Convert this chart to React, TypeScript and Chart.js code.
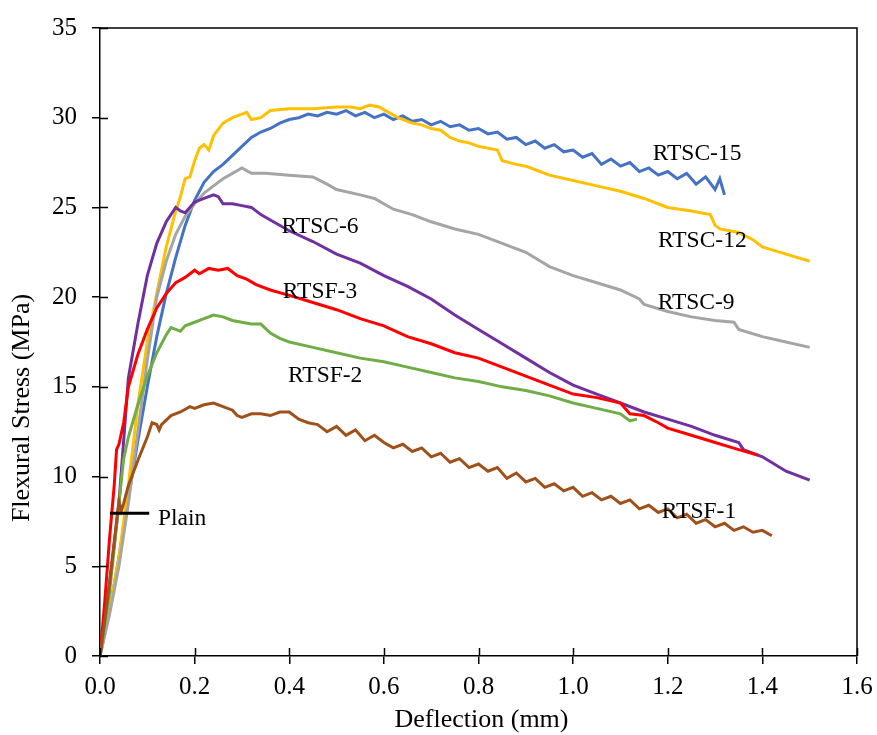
import React, { useEffect, useRef } from "react";
import { Chart, registerables } from "chart.js";

Chart.register(...registerables);

const FONT = '"Liberation Serif", "Times New Roman", serif';

// Each series: flat [x, y, x, y, ...] lists
const rtsc15 = [0,0, 0.02,2.5, 0.04,5.5, 0.06,8.8, 0.08,12.0, 0.10,15.0, 0.12,17.8, 0.14,20.2, 0.16,22.2, 0.18,24.0, 0.20,25.4, 0.22,26.4, 0.24,27.0, 0.26,27.4, 0.28,27.9, 0.30,28.4, 0.32,28.9, 0.34,29.2, 0.36,29.4, 0.38,29.7, 0.40,29.9, 0.42,30.0, 0.44,30.2, 0.46,30.1, 0.48,30.3, 0.50,30.2, 0.52,30.4, 0.54,30.1, 0.56,30.3, 0.58,30.0, 0.60,30.2, 0.62,29.9, 0.64,30.1, 0.66,29.8, 0.68,29.9, 0.70,29.6, 0.72,29.8, 0.74,29.5, 0.76,29.6, 0.78,29.3, 0.80,29.4, 0.82,29.1, 0.84,29.2, 0.86,28.8, 0.88,28.9, 0.90,28.5, 0.92,28.7, 0.94,28.3, 0.96,28.5, 0.98,28.1, 1.00,28.2, 1.02,27.8, 1.04,28.0, 1.06,27.4, 1.08,27.7, 1.10,27.3, 1.12,27.5, 1.14,27.0, 1.16,27.2, 1.18,26.8, 1.20,27.0, 1.22,26.6, 1.24,26.9, 1.26,26.3, 1.28,26.7, 1.30,26.0, 1.31,26.6, 1.32,25.7];
const rtsc12 = [0,0, 0.02,2.5, 0.04,5.5, 0.06,9.5, 0.08,14.0, 0.10,17.5, 0.12,20.2, 0.14,22.8, 0.16,24.8, 0.17,25.6, 0.18,26.6, 0.19,26.7, 0.20,27.6, 0.21,28.3, 0.22,28.5, 0.23,28.2, 0.24,29.0, 0.26,29.7, 0.28,30.0, 0.30,30.2, 0.31,30.3, 0.32,29.9, 0.34,30.0, 0.36,30.4, 0.40,30.5, 0.45,30.5, 0.50,30.6, 0.53,30.6, 0.55,30.5, 0.57,30.7, 0.59,30.6, 0.61,30.3, 0.63,30.0, 0.66,29.7, 0.68,29.6, 0.70,29.4, 0.72,29.3, 0.74,28.9, 0.76,28.7, 0.78,28.6, 0.80,28.4, 0.84,28.2, 0.85,27.6, 0.88,27.4, 0.90,27.3, 0.92,27.1, 0.95,26.8, 1.00,26.5, 1.05,26.2, 1.10,25.9, 1.15,25.5, 1.20,25.0, 1.25,24.8, 1.29,24.6, 1.30,24.0, 1.31,23.8, 1.35,23.6, 1.38,23.2, 1.40,22.8, 1.45,22.4, 1.50,22.0];
const rtsc9 = [0,0, 0.02,2.3, 0.04,5.0, 0.06,8.5, 0.08,12.5, 0.10,16.5, 0.12,20.0, 0.14,22.0, 0.16,23.5, 0.18,24.5, 0.20,25.2, 0.22,25.8, 0.24,26.2, 0.26,26.6, 0.28,26.9, 0.30,27.2, 0.32,26.9, 0.35,26.9, 0.40,26.8, 0.45,26.7, 0.48,26.3, 0.50,26.0, 0.55,25.7, 0.58,25.5, 0.62,24.9, 0.66,24.6, 0.70,24.2, 0.75,23.8, 0.80,23.5, 0.85,23.0, 0.90,22.5, 0.95,21.7, 1.00,21.2, 1.05,20.8, 1.10,20.4, 1.14,19.9, 1.15,19.6, 1.20,19.2, 1.25,18.9, 1.30,18.7, 1.34,18.6, 1.35,18.2, 1.40,17.8, 1.45,17.5, 1.50,17.2];
const rtsc6 = [0,0, 0.02,4.0, 0.04,8.5, 0.06,15.5, 0.08,18.5, 0.10,21.2, 0.12,23.0, 0.14,24.2, 0.16,25.0, 0.17,24.8, 0.18,24.7, 0.20,25.3, 0.22,25.5, 0.24,25.7, 0.25,25.6, 0.26,25.2, 0.28,25.2, 0.30,25.1, 0.32,25.0, 0.34,24.6, 0.36,24.3, 0.40,23.7, 0.45,23.1, 0.50,22.4, 0.55,21.9, 0.60,21.2, 0.65,20.6, 0.70,19.9, 0.75,19.0, 0.80,18.2, 0.85,17.4, 0.90,16.6, 0.95,15.8, 1.00,15.1, 1.05,14.6, 1.10,14.1, 1.15,13.6, 1.20,13.2, 1.25,12.8, 1.30,12.3, 1.35,11.9, 1.36,11.5, 1.40,11.1, 1.45,10.3, 1.50,9.8];
const rtsf3 = [0,0, 0.01,3.0, 0.02,6.5, 0.03,9.5, 0.035,11.5, 0.04,11.8, 0.05,13.0, 0.06,15.0, 0.07,15.9, 0.08,16.8, 0.10,18.2, 0.12,19.4, 0.14,20.2, 0.16,20.8, 0.18,21.1, 0.20,21.5, 0.21,21.3, 0.23,21.6, 0.25,21.5, 0.27,21.6, 0.29,21.2, 0.31,21.0, 0.33,20.7, 0.36,20.4, 0.40,20.1, 0.45,19.7, 0.50,19.3, 0.55,18.8, 0.60,18.4, 0.65,17.8, 0.70,17.4, 0.75,16.9, 0.80,16.6, 0.85,16.1, 0.90,15.6, 0.95,15.1, 1.00,14.6, 1.05,14.4, 1.10,14.1, 1.12,13.5, 1.15,13.4, 1.18,13.0, 1.20,12.7, 1.25,12.3, 1.30,11.9, 1.35,11.5, 1.39,11.2];
const rtsf2 = [0,0, 0.02,3.5, 0.04,8.5, 0.05,11.0, 0.06,12.2, 0.08,14.0, 0.10,15.6, 0.12,16.9, 0.14,17.9, 0.15,18.3, 0.16,18.2, 0.17,18.1, 0.18,18.4, 0.20,18.6, 0.22,18.8, 0.24,19.0, 0.26,18.9, 0.28,18.7, 0.30,18.6, 0.32,18.5, 0.34,18.5, 0.36,18.0, 0.38,17.7, 0.40,17.5, 0.45,17.2, 0.50,16.9, 0.55,16.6, 0.60,16.4, 0.65,16.1, 0.70,15.8, 0.75,15.5, 0.80,15.3, 0.85,15.0, 0.90,14.8, 0.95,14.5, 1.00,14.1, 1.05,13.8, 1.10,13.5, 1.12,13.1, 1.135,13.2];
const rtsf1 = [0,0, 0.02,4.0, 0.035,7.5, 0.04,8.6, 0.045,8.1, 0.05,8.5, 0.06,9.5, 0.08,10.9, 0.10,12.2, 0.11,13.0, 0.12,12.9, 0.125,12.6, 0.13,12.9, 0.15,13.4, 0.17,13.6, 0.19,13.9, 0.20,13.8, 0.22,14.0, 0.24,14.1, 0.26,13.9, 0.28,13.7, 0.29,13.4, 0.30,13.3, 0.32,13.5, 0.34,13.5, 0.36,13.4, 0.38,13.6, 0.40,13.6, 0.42,13.2, 0.44,13.0, 0.46,12.9, 0.48,12.5, 0.50,12.8, 0.52,12.3, 0.54,12.6, 0.56,12.0, 0.58,12.3, 0.60,11.9, 0.62,11.6, 0.64,11.8, 0.66,11.4, 0.68,11.6, 0.70,11.1, 0.72,11.3, 0.74,10.8, 0.76,11.0, 0.78,10.5, 0.80,10.7, 0.82,10.3, 0.84,10.5, 0.86,9.9, 0.88,10.2, 0.90,9.7, 0.92,9.9, 0.94,9.4, 0.96,9.6, 0.98,9.2, 1.00,9.4, 1.02,8.9, 1.04,9.1, 1.06,8.7, 1.08,8.9, 1.10,8.5, 1.12,8.7, 1.14,8.2, 1.16,8.4, 1.18,8.0, 1.20,8.2, 1.22,7.7, 1.24,7.9, 1.26,7.4, 1.28,7.6, 1.30,7.2, 1.32,7.4, 1.34,7.0, 1.36,7.2, 1.38,6.9, 1.40,7.0, 1.42,6.7];
const plainMarker = [0.021,7.95, 0.104,7.95];

const seriesNames = ["Plain", "RTSF-1", "RTSF-3", "RTSF-2", "RTSC-6", "RTSC-9", "RTSC-12", "RTSC-15"];
const seriesData = [plainMarker, rtsf1, rtsf3, rtsf2, rtsc6, rtsc9, rtsc12, rtsc15];
const seriesColors = ["#000000", "#A0501A", "#FF0000", "#70AD47", "#7030A0", "#A5A5A5", "#FFC000", "#4472C4"];

// Curve labels (text, x, y in data units)
const labelTexts = ["RTSC-15", "RTSC-12", "RTSC-9", "RTSC-6", "RTSF-3", "RTSF-2", "RTSF-1", "Plain"];
const labelXs = [1.262, 1.273, 1.260, 0.465, 0.465, 0.476, 1.266, 0.1226];
const labelYs = [27.98, 23.13, 19.68, 23.9, 20.3, 15.6, 8.03, 7.64];
const labelAligns = ["center", "center", "center", "center", "center", "center", "center", "left"];

const xMin = 0, xMax = 1.6, xStep = 0.2;
const yMin = 0, yMax = 35, yStep = 5;
const xTitle = "Deflection (mm)";
const yTitle = "Flexural Stress (MPa)";

function toPoints(flat: number[]) {
  const pts: { x: number; y: number }[] = [];
  for (let i = 0; i < flat.length; i += 2) pts.push({ x: flat[i], y: flat[i + 1] });
  return pts;
}

const framePlugin = {
  id: "frame",
  afterDatasetsDraw(chart: any) {
    const { ctx, chartArea: a, scales } = chart;
    const xs = scales.x, ys = scales.y;
    ctx.save();
    // frame top / right
    ctx.strokeStyle = "#000";
    ctx.lineWidth = 1.5;
    ctx.beginPath();
    ctx.moveTo(a.left, a.top);
    ctx.lineTo(a.right, a.top);
    ctx.lineTo(a.right, a.bottom);
    ctx.stroke();
    // inner half of crossing ticks
    ctx.beginPath();
    for (let v = xMin; v <= xMax + 1e-9; v += xStep) {
      const px = Math.round(xs.getPixelForValue(v)) + 0.5;
      ctx.moveTo(px, a.bottom);
      ctx.lineTo(px, a.bottom - 8);
    }
    for (let v = yMin; v <= yMax + 1e-9; v += yStep) {
      const py = Math.round(ys.getPixelForValue(v)) + 0.5;
      ctx.moveTo(a.left, py);
      ctx.lineTo(a.left + 8, py);
    }
    ctx.stroke();
    // curve labels
    ctx.fillStyle = "#000";
    ctx.font = `23.5px ${FONT}`;
    ctx.textBaseline = "middle";
    for (let i = 0; i < labelTexts.length; i++) {
      ctx.textAlign = labelAligns[i] as CanvasTextAlign;
      ctx.fillText(labelTexts[i], xs.getPixelForValue(labelXs[i]), ys.getPixelForValue(labelYs[i]));
    }
    // axis titles
    ctx.font = `26px ${FONT}`;
    ctx.textAlign = "center";
    ctx.fillText(xTitle, (a.left + a.right) / 2 + 3, 720);
    ctx.translate(22, 408);
    ctx.rotate(-Math.PI / 2);
    ctx.fillText(yTitle, 0, 0);
    ctx.restore();
  },
};

export default function App() {
  const ref = useRef<HTMLCanvasElement | null>(null);
  useEffect(() => {
    document.body.style.margin = "0";
    const canvas = ref.current;
    if (!canvas) return;
    const chart = new Chart(canvas, {
      type: "line",
      data: {
        datasets: seriesNames.map((n, i) => ({
          label: n,
          data: toPoints(seriesData[i]),
          borderColor: seriesColors[i],
          backgroundColor: seriesColors[i],
          borderWidth: 3,
          pointRadius: 0,
          tension: 0,
          fill: false,
        })),
      },
      options: {
        animation: false,
        responsive: false,
        maintainAspectRatio: false,
        layout: { padding: { top: 28, right: 20, left: 0, bottom: 0 } },
        plugins: { legend: { display: false }, tooltip: { enabled: false }, title: { display: false } },
        scales: {
          x: {
            type: "linear",
            min: xMin,
            max: xMax,
            ticks: {
              stepSize: xStep,
              color: "#000",
              font: { family: FONT, size: 25 },
              padding: 8,
              callback: (v: any) => Number(v).toFixed(1),
            },
            grid: { display: true, drawOnChartArea: false, drawTicks: true, tickLength: 8, color: "#000", lineWidth: 1.5 },
            border: { display: true, color: "#000", width: 1.5 },
            afterFit: (s: any) => { s.height = 79; s.paddingLeft = 0; s.paddingRight = 0; },
          },
          y: {
            type: "linear",
            min: yMin,
            max: yMax,
            ticks: {
              stepSize: yStep,
              color: "#000",
              font: { family: FONT, size: 25 },
              padding: 15,
            },
            grid: { display: true, drawOnChartArea: false, drawTicks: true, tickLength: 8, color: "#000", lineWidth: 1.5 },
            border: { display: true, color: "#000", width: 1.5 },
            afterFit: (s: any) => { s.width = 100; s.paddingTop = 0; s.paddingBottom = 0; },
          },
        },
      },
      plugins: [framePlugin],
    } as any);
    return () => chart.destroy();
  }, []);
  return (
    <div style={{ width: 877, height: 735, background: "#fff" }}>
      <canvas ref={ref} width={877} height={735} style={{ width: 877, height: 735, display: "block" }} />
    </div>
  );
}
